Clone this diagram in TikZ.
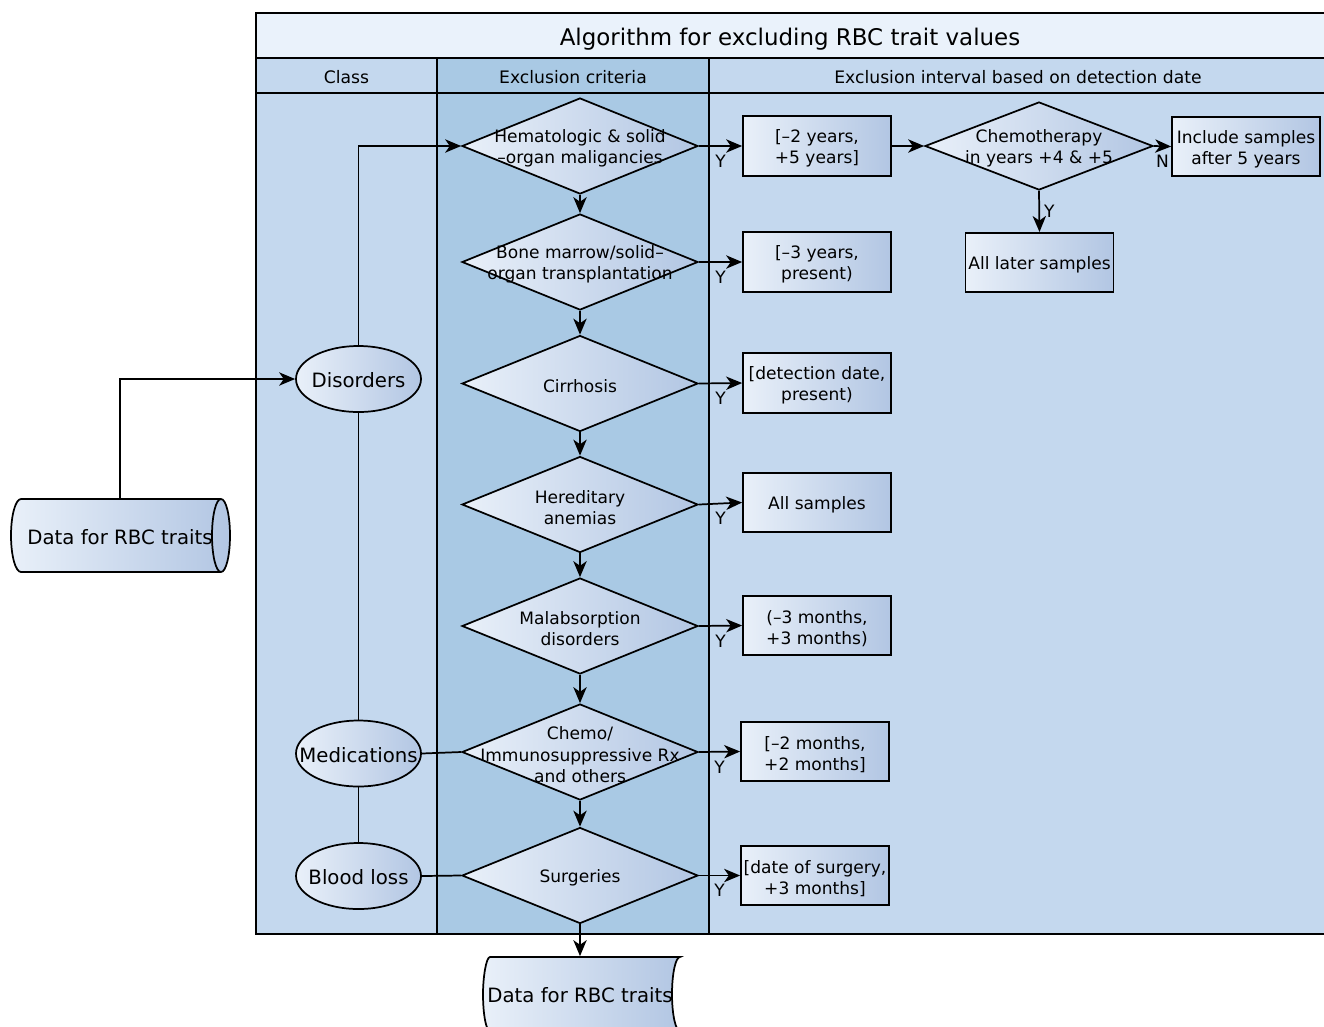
\documentclass[tikz,border=0pt]{standalone}
\usepackage{fontspec}
\setmainfont{DejaVu Sans}
\usetikzlibrary{shapes.geometric,arrows.meta,calc}
\definecolor{titlefill}{HTML}{EAF2FB}
\definecolor{lanefill}{HTML}{C4D8EE}
\definecolor{critfill}{HTML}{A9C9E4}
\definecolor{gradL}{HTML}{E9F0F9}
\definecolor{gradR}{HTML}{B2C6E3}
\newcommand\fbody{\fontsize{12.8}{15.8}\selectfont}
\newcommand\fhdr{\fontsize{12.9}{15.8}\selectfont}
\newcommand\fbig{\fontsize{14.8}{18}\selectfont}
\newcommand\ftitle{\fontsize{17.2}{22}\selectfont}
\begin{document}
\begin{tikzpicture}[x=0.75pt,y=-0.75pt,
  line width=1.3pt,
  arr/.style={-{Stealth[length=12pt,width=10pt,inset=3.5pt]}},
  grad/.style={left color=gradL, right color=gradR, draw=black, line width=1.3pt},
  dia/.style={grad, diamond, inner sep=0pt, minimum width=177pt, minimum height=72pt},
  box/.style={grad, rectangle, inner sep=0pt, minimum width=111pt, minimum height=44.5pt},
  ell/.style={grad, ellipse, inner sep=0pt, minimum width=93.75pt, minimum height=49.5pt},
  txt/.style={font=\fbody, align=center, inner sep=0pt, yshift=-2pt},
  btxt/.style={font=\fbig, align=center, inner sep=0pt, yshift=-1pt},
  hdr/.style={font=\fhdr, inner sep=0pt, yshift=-1pt},
  ylab/.style={font=\fbody, inner sep=0pt, anchor=north, yshift=-6pt},
  frame/.style={line width=1.4pt},
]
\useasboundingbox (0,0) rectangle (1324,1026);
\clip (0,0) rectangle (1324,1026);
\fill[white] (0,0) rectangle (1324,1026);

% swimlane table
\fill[titlefill] (256,13) rectangle (1340,58);
\fill[lanefill] (256,58) rectangle (1340,934);
\fill[critfill] (437,58) rectangle (709,934);
\draw[frame] (256,13) rectangle (1340,934);
\draw[frame] (256,58) -- (1340,58);
\draw[frame] (256,93) -- (1340,93);
\draw[frame] (437,58) -- (437,934);
\draw[frame] (709,58) -- (709,934);
\node[font=\ftitle, inner sep=0pt, yshift=-1.5pt] (title) at (790,37) {Algorithm for excluding RBC trait values};
\node[hdr] (hclass) at (346.5,76) {Class};
\node[hdr] (hcrit) at (573,76) {Exclusion criteria};
\node[hdr] (hint) at (1018,76) {Exclusion interval based on detection date};

% source data store (horizontal cylinder)
\path[grad] (21,499) -- (221,499)
  .. controls (226,499) and (230,515.3) .. (230,535.5)
  .. controls (230,555.7) and (226,572) .. (221,572)
  -- (21,572)
  .. controls (15.5,572) and (11,555.7) .. (11,535.5)
  .. controls (11,515.3) and (15.5,499) .. (21,499) -- cycle;
\draw (221,499) .. controls (216,499) and (212,515.3) .. (212,535.5)
  .. controls (212,555.7) and (216,572) .. (221,572);
\node[inner sep=0pt, minimum width=165pt, minimum height=54.75pt] (src) at (120,535.5) {};
\node[btxt] (srct) at (src) {Data for RBC traits};

% destination stored data
\path[grad] (490,957) -- (680,957)
  .. controls (675.6,957) and (672,973.6) .. (672,994)
  .. controls (672,1014.4) and (675.6,1031) .. (680,1031)
  -- (490,1031)
  .. controls (486.1,1031) and (483,1014.4) .. (483,994)
  .. controls (483,977.6) and (486.1,957) .. (490,957) -- cycle;
\node[inner sep=0pt, minimum width=142pt, minimum height=55.5pt] (dst) at (580,994) {};
\node[btxt] (dstt) at (dst) {Data for RBC traits};

% class ellipses
\node[ell] (dis) at (358.5,379) {};
\node[ell] (med) at (358.5,753.5) {};
\node[ell] (bl) at (358.5,876) {};
\node[btxt] (dist) at (dis) {Disorders};
\node[btxt] (medt) at (med) {Medications};
\node[btxt] (blt) at (bl) {Blood loss};

% criteria diamonds
\node[dia] (d1) at (580,146) {};
\node[dia] (d2) at (580,262) {};
\node[dia] (d3) at (580,383.5) {};
\node[dia] (d4) at (580,504.5) {};
\node[dia] (d5) at (580,626) {};
\node[dia] (d6) at (580,752) {};
\node[dia] (d7) at (580,875.5) {};
\node[txt] (t1) at (d1) {Hematologic \& solid\\–organ maligancies};
\node[txt] (t2) at (d2) {Bone marrow/solid–\\organ transplantation};
\node[txt] (t3) at (d3) {Cirrhosis};
\node[txt] (t4) at (d4) {Hereditary\\anemias};
\node[txt] (t5) at (d5) {Malabsorption\\disorders};
\node[txt] (t6) at (d6) {Chemo/\\Immunosuppressive Rx\\and others};
\node[txt] (t7) at (d7) {Surgeries};

% interval boxes
\node[box] (b1) at (817,146) {};
\node[box] (b2) at (817,262) {};
\node[box] (b3) at (817,383) {};
\node[box] (b4) at (817,502.5) {};
\node[box] (b5) at (817,625.5) {};
\node[box] (b6) at (815,751.5) {};
\node[box] (b7) at (815,875.5) {};
\node[txt] (bt1) at (b1) {[–2 years,\\+5 years]};
\node[txt] (bt2) at (b2) {[–3 years,\\present)};
\node[txt] (bt3) at (b3) {[detection date,\\present)};
\node[txt] (bt4) at (b4) {All samples};
\node[txt] (bt5) at (b5) {(–3 months,\\+3 months)};
\node[txt] (bt6) at (b6) {[–2 months,\\+2 months]};
\node[txt] (bt7) at (b7) {[date of surgery,\\+3 months]};

% chemotherapy branch
\node[grad, diamond, inner sep=0pt, minimum width=171pt, minimum height=66pt] (chemo) at (1039,146) {};
\node[txt] (tc) at (chemo) {Chemotherapy\\in years +4 \& +5};
\node[box] (inc) at (1246,146.5) {};
\node[txt] (inct) at (inc) {Include samples\\after 5 years};
\node[box] (later) at (1039.5,262.5) {};
\node[txt] (latert) at (later) {All later samples};

% connectors
\draw[arr] (src.north) |- (dis.west);
\draw[arr] (dis.north) |- (d1.west);
\draw (dis.south) -- (med.north);
\draw (med.south) -- (bl.north);
\draw (med.east) -- (d6.west);
\draw (bl.east) -- (d7.west);
\draw[arr] (d1.south) -- (d2.north);
\draw[arr] (d2.south) -- (d3.north);
\draw[arr] (d3.south) -- (d4.north);
\draw[arr] (d4.south) -- (d5.north);
\draw[arr] (d5.south) -- (d6.north);
\draw[arr] (d6.south) -- (d7.north);
\draw[arr] (d7.south) -- (dst.north);
\draw[arr] (d1.east) -- node[ylab, pos=0.5] {Y} (b1.west);
\draw[arr] (d2.east) -- node[ylab, pos=0.5] {Y} (b2.west);
\draw[arr] (d3.east) -- node[ylab, pos=0.5] {Y} (b3.west);
\draw[arr] (d4.east) -- node[ylab, pos=0.5] {Y} (b4.west);
\draw[arr] (d5.east) -- node[ylab, pos=0.5] {Y} (b5.west);
\draw[arr] (d6.east) -- node[ylab, pos=0.5] {Y} (b6.west);
\draw[arr] (d7.east) -- node[ylab, pos=0.5] {Y} (b7.west);
\draw[arr] (b1.east) -- (chemo.west);
\draw[arr] (chemo.east) -- node[ylab, pos=0.5] {N} (inc.west);
\draw[arr] (chemo.south) -- node[font=\fbody, inner sep=0pt, anchor=west, xshift=3pt, pos=0.5] {Y} (later.north);
\end{tikzpicture}
\end{document}
